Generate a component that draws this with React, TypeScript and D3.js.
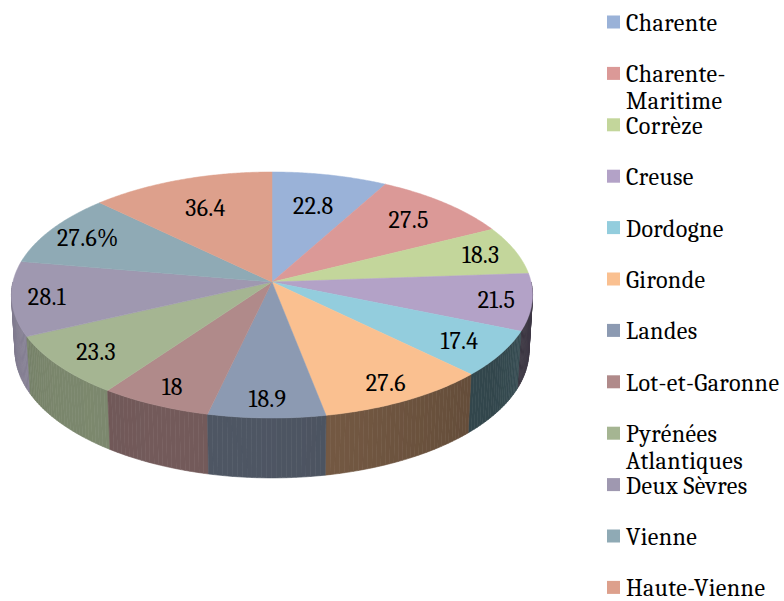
import React from "react";
import * as d3 from "d3";

const names = [
  "Charente",
  "Charente-Maritime",
  "Corrèze",
  "Creuse",
  "Dordogne",
  "Gironde",
  "Landes",
  "Lot-et-Garonne",
  "Pyrénées Atlantiques",
  "Deux Sèvres",
  "Vienne",
  "Haute-Vienne",
];
const values = [22.8, 27.5, 18.3, 21.5, 17.4, 27.6, 18.9, 18, 23.3, 28.1, 27.6, 36.4];
const labelTexts = ["22.8", "27.5", "18.3", "21.5", "17.4", "27.6", "18.9", "18", "23.3", "28.1", "27.6%", "36.4"];
const colors = [
  "#9AB2D8",
  "#DB9997",
  "#C3D69B",
  "#B3A2C7",
  "#93CDDD",
  "#FAC090",
  "#8C9AB2",
  "#B08A8A",
  "#A5B592",
  "#9F98B0",
  "#8FAAB5",
  "#DDA08C",
];

const W = 784;
const H = 601;
// perspective projection of the disc
const CX = 272;
const CY = 282;
const Dd = 8.36;
const K = 2166;
const S = 0.4695;
const C = 0.883;
const T = 0.246;
const FONT = "Caladea";

function proj(a: number, r: number, y: number): [number, number] {
  const X = r * Math.sin(a);
  const Z = -r * Math.cos(a);
  const sy = y * C - Z * S;
  const dist = Dd - (Z * C + y * S);
  return [CX + (K * X) / dist, CY - (K * sy) / dist];
}

function shade(col: string, f: number) {
  const c = d3.rgb(col);
  return d3.rgb(c.r * f, c.g * f, c.b * f).formatHex();
}

function wrapName(n: string): string[] {
  if (n.length <= 15) return [n];
  let best = -1;
  for (let i = 0; i < n.length; i++) {
    if (n[i] === "-" && i + 1 <= 15) best = i + 1;
    if (n[i] === " " && i <= 15) best = i;
  }
  if (best < 0) return [n];
  return [n.slice(0, best).trim(), n.slice(best).trim()];
}

export default function App() {
  const pie = d3.pie<number>().sort(null).value((v) => v);
  const arcs = pie(values);
  const line = d3.line();

  // side wall segments
  const segs: { z: number; d: string; fill: string }[] = [];
  arcs.forEach((a, i) => {
    const lo = Math.max(a.startAngle, Math.PI / 2);
    const hi = Math.min(a.endAngle, (3 * Math.PI) / 2);
    if (hi <= lo) return;
    const n = Math.max(2, Math.ceil((hi - lo) / (Math.PI / 180)));
    for (let k = 0; k < n; k++) {
      const a0 = lo + ((hi - lo) * k) / n;
      const a1 = lo + ((hi - lo) * (k + 1)) / n;
      const am = (a0 + a1) / 2;
      const tt = (am - a.startAngle) / (a.endAngle - a.startAngle);
      let f = 0.55 - 0.25 * Math.sin(am);
      f = Math.max(0.35, f) * (1.08 - 0.16 * tt);
      const pts = [proj(a0, 1, 0), proj(a1, 1, 0), proj(a1, 1, -T), proj(a0, 1, -T)];
      segs.push({ z: -Math.cos(am), d: line(pts)! + "Z", fill: shade(colors[i], f) });
    }
  });
  segs.sort((p, q) => p.z - q.z);

  // top faces
  const tops = arcs.map((a, i) => {
    const n = Math.max(4, Math.ceil((a.endAngle - a.startAngle) / (Math.PI / 360)));
    const pts: [number, number][] = [proj(0, 0, 0)];
    for (let k = 0; k <= n; k++) {
      const ang = a.startAngle + ((a.endAngle - a.startAngle) * k) / n;
      pts.push(proj(ang, 1, 0));
    }
    return { d: line(pts)! + "Z", fill: colors[i] };
  });

  const labels = arcs.map((a, i) => {
    const m = (a.startAngle + a.endAngle) / 2;
    const s2 = Math.sin(m) * Math.sin(m);
    const r = 0.68 + 0.19 * Math.max(s2, (1 - Math.cos(m)) / 2);
    const [x, y] = proj(m, r, 0);
    return { x, y, t: labelTexts[i] };
  });

  const legendX = 607;
  const legendY0 = 22.5;
  const legendStep = 51.4;

  return (
    <svg width={W} height={H} style={{ position: "absolute", left: 0, top: 0, background: "#fff" }}>
      <rect width={W} height={H} fill="#fff" />
      <g>
        {segs.map((s, i) => (
          <path key={"s" + i} d={s.d} fill={s.fill} stroke={s.fill} strokeWidth={0.6} />
        ))}
      </g>
      <g>
        {tops.map((t, i) => (
          <path key={"t" + i} d={t.d} fill={t.fill} stroke={t.fill} strokeWidth={0.5} />
        ))}
      </g>
      <g>
        {labels.map((l, i) => (
          <text key={"l" + i} x={l.x} y={l.y} dy="0.35em" textAnchor="middle" fill="#000"
            style={{ fontFamily: FONT, fontSize: "24px", letterSpacing: "0.3px" }}>
            {l.t}
          </text>
        ))}
      </g>
      <g>
        {names.map((n, i) => {
          const cy = legendY0 + legendStep * i;
          const lines = wrapName(n);
          return (
            <g key={"g" + i}>
              <rect x={legendX} y={cy - 7} width={13} height={13} fill={colors[i]} />
              {lines.map((ln, j) => (
                <text key={j} x={626} y={cy + 8.5 + j * 27} fill="#000"
                  style={{ fontFamily: FONT, fontSize: "24px", letterSpacing: "0.4px" }}>
                  {ln}
                </text>
              ))}
            </g>
          );
        })}
      </g>
    </svg>
  );
}
